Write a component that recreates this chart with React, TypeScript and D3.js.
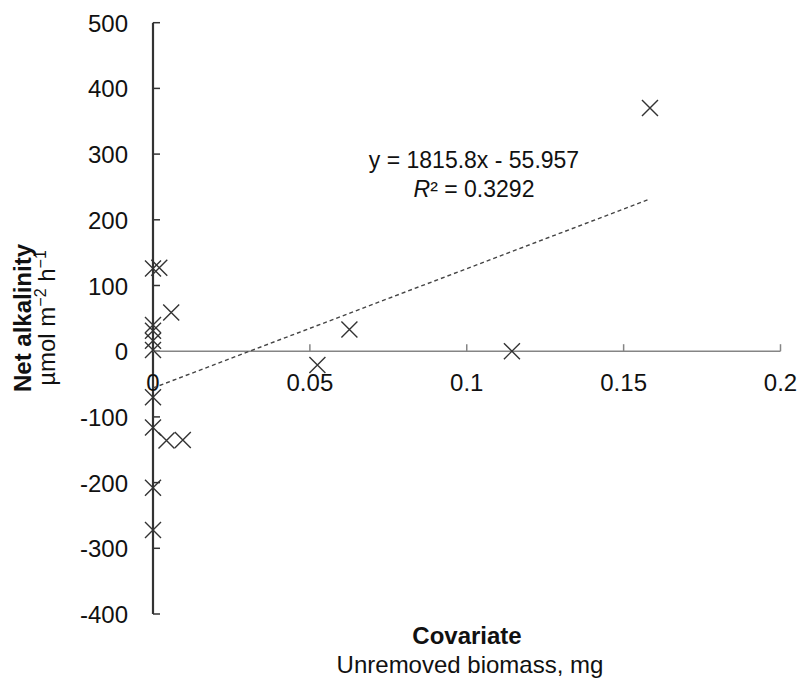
import React, { useEffect, useRef } from 'react';
import * as d3 from 'd3';

// biomass (mg) and net alkalinity (µmol m-2 h-1)
const biomass = [0, 0.002, 0.0058, 0, 0, 0, 0, 0, 0, 0.0043, 0.0095, 0, 0, 0.1584, 0.1144, 0.0626, 0.0524];
const alkalinity = [126, 127, 59, 40, 31, 16, 2, -70, -116, -136, -135, -208, -272, 370, 0, 33, -21];
const xTicks = [0, 0.05, 0.1, 0.15, 0.2];
const xTickLabels = ['0', '0.05', '0.1', '0.15', '0.2'];
const yTicks = [500, 400, 300, 200, 100, 0, -100, -200, -300, -400];
const slope = 1815.8;
const intercept = -55.957;

const W = 801, H = 682;
const font = 'Arial, "Liberation Sans", sans-serif';

export default function App() {
  const ref = useRef<SVGSVGElement>(null);

  useEffect(() => {
    const svg = d3.select(ref.current);
    svg.selectAll('*').remove();

    const x = d3.scaleLinear().domain([0, 0.2]).range([153, 780.5]);
    const y = d3.scaleLinear().domain([-400, 500]).range([614, 22.7]);

    // y axis (dark) with inside ticks
    const gy = svg.append('g');
    gy.append('line')
      .attr('x1', x(0)).attr('x2', x(0))
      .attr('y1', y(500)).attr('y2', y(-400))
      .attr('stroke', '#333').attr('stroke-width', 2.2);
    gy.selectAll('.yt').data(yTicks).enter().append('line')
      .attr('x1', x(0)).attr('x2', x(0) + 7)
      .attr('y1', d => y(d)).attr('y2', d => y(d))
      .attr('stroke', '#333').attr('stroke-width', 1.5);
    gy.selectAll('.yl').data(yTicks).enter().append('text')
      .attr('x', 128).attr('y', d => y(d) + 9)
      .attr('text-anchor', 'end')
      .style('font', `24px ${font}`).attr('fill', '#111')
      .text(d => String(d));

    // x axis (grey) through zero
    const gx = svg.append('g');
    gx.append('line')
      .attr('x1', x(0)).attr('x2', x(0.2))
      .attr('y1', y(0)).attr('y2', y(0))
      .attr('stroke', '#858585').attr('stroke-width', 1.5);
    gx.selectAll('.xt').data(xTicks.slice(1)).enter().append('line')
      .attr('x1', d => x(d)).attr('x2', d => x(d))
      .attr('y1', y(0)).attr('y2', y(0) - 7)
      .attr('stroke', '#858585').attr('stroke-width', 1.5);
    gx.selectAll('.xl').data(xTicks).enter().append('text')
      .attr('x', d => x(d)).attr('y', y(0) + 40)
      .attr('text-anchor', 'middle')
      .style('font', `24px ${font}`).attr('fill', '#111')
      .text((d, i) => xTickLabels[i]);

    // linear trend line over the data range
    const [x0, x1] = d3.extent(biomass) as [number, number];
    svg.append('line')
      .attr('x1', x(x0)).attr('y1', y(slope * x0 + intercept))
      .attr('x2', x(x1)).attr('y2', y(slope * x1 + intercept))
      .attr('stroke', '#444').attr('stroke-width', 1.4)
      .attr('stroke-dasharray', '4,3');

    // X markers
    const s = 8;
    const pts = svg.append('g').attr('stroke', '#333').attr('stroke-width', 1.4);
    biomass.forEach((b, i) => {
      const cx = x(b), cy = y(alkalinity[i]);
      pts.append('path')
        .attr('d', `M${cx - s},${cy - s}L${cx + s},${cy + s}M${cx - s},${cy + s}L${cx + s},${cy - s}`)
        .attr('fill', 'none');
    });

    // equation
    const eq = svg.append('text').attr('text-anchor', 'middle')
      .style('font', `23px ${font}`).attr('fill', '#111');
    eq.append('tspan').attr('x', 474).attr('y', 168)
      .text(`y = ${slope}x - ${Math.abs(intercept)}`);
    const r2 = eq.append('tspan').attr('x', 474).attr('y', 197);
    r2.append('tspan').attr('font-style', 'italic').text('R');
    r2.append('tspan').text('² = 0.3292');

    // axis titles
    svg.append('text')
      .attr('x', 467).attr('y', 644).attr('text-anchor', 'middle')
      .style('font', `bold 24px ${font}`).attr('fill', '#111')
      .text('Covariate');
    svg.append('text')
      .attr('x', 470).attr('y', 673).attr('text-anchor', 'middle')
      .style('font', `24px ${font}`).attr('fill', '#111')
      .text('Unremoved biomass, mg');

    const yt = svg.append('g').attr('transform', 'translate(31,318) rotate(-90)');
    yt.append('text').attr('text-anchor', 'middle')
      .style('font', `bold 24px ${font}`).attr('fill', '#111')
      .text('Net alkalinity');
    const sub = yt.append('text').attr('y', 24).attr('text-anchor', 'middle')
      .style('font', `24px ${font}`).attr('fill', '#111');
    sub.append('tspan').text('µmol m');
    sub.append('tspan').attr('dy', -9).style('font-size', '16px').text('−2');
    sub.append('tspan').attr('dy', 9).text(' h');
    sub.append('tspan').attr('dy', -9).style('font-size', '16px').text('−1');
  }, []);

  return (
    <svg ref={ref} width={W} height={H}
      style={{ position: 'absolute', left: 0, top: 0, background: '#fff' }} />
  );
}
